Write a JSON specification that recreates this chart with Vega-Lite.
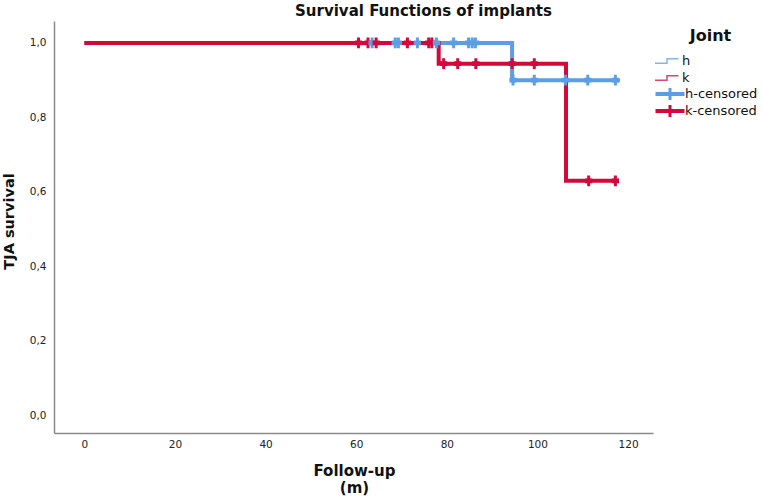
{
  "$schema": "https://vega.github.io/schema/vega-lite/v6.json",
  "autosize": {"type": "none"},
  "padding": {"left": 54, "top": 21, "right": 109, "bottom": 69},
  "width": 599,
  "height": 412,
  "background": "white",
  "title": {
    "text": "Survival Functions of implants",
    "frame": "group",
    "anchor": "middle",
    "dx": 70,
    "dy": 14,
    "offset": 4,
    "baseline": "alphabetic",
    "font": "DejaVu Sans",
    "fontSize": 15,
    "fontWeight": "bold",
    "color": "#111"
  },
  "config": {
    "view": {"stroke": null},
    "axis": {
      "grid": false,
      "ticks": false,
      "domainColor": "#8a8a8a",
      "domainWidth": 1.5,
      "labelFont": "DejaVu Sans",
      "labelFontSize": 10.5,
      "labelColor": "#222",
      "titleFont": "DejaVu Sans",
      "titleFontWeight": "bold",
      "titleColor": "#111"
    }
  },
  "datasets": {
    "curve": [
      {"joint": "h", "t": 0, "s": 1},
      {"joint": "h", "t": 94.4, "s": 0.9},
      {"joint": "h", "t": 118.2, "s": 0.9},
      {"joint": "k", "t": 0, "s": 1},
      {"joint": "k", "t": 78.2, "s": 0.9444},
      {"joint": "k", "t": 106.3, "s": 0.6296},
      {"joint": "k", "t": 117.9, "s": 0.6296}
    ],
    "censored": [
      {"joint": "k-censored", "t": 60.5, "s": 1},
      {"joint": "k-censored", "t": 62.6, "s": 1},
      {"joint": "h-censored", "t": 63.5, "s": 1},
      {"joint": "k-censored", "t": 64.4, "s": 1},
      {"joint": "h-censored", "t": 68.6, "s": 1},
      {"joint": "h-censored", "t": 69.3, "s": 1},
      {"joint": "k-censored", "t": 71.3, "s": 1},
      {"joint": "h-censored", "t": 73.5, "s": 1},
      {"joint": "k-censored", "t": 76.0, "s": 1},
      {"joint": "k-censored", "t": 76.7, "s": 1},
      {"joint": "h-censored", "t": 77.7, "s": 1},
      {"joint": "h-censored", "t": 81.5, "s": 1},
      {"joint": "h-censored", "t": 84.8, "s": 1},
      {"joint": "h-censored", "t": 85.6, "s": 1},
      {"joint": "h-censored", "t": 86.3, "s": 1},
      {"joint": "k-censored", "t": 79.3, "s": 0.9444},
      {"joint": "k-censored", "t": 82.4, "s": 0.9444},
      {"joint": "k-censored", "t": 86.4, "s": 0.9444},
      {"joint": "k-censored", "t": 94.4, "s": 0.9444},
      {"joint": "k-censored", "t": 99.3, "s": 0.9444},
      {"joint": "h-censored", "t": 94.6, "s": 0.9},
      {"joint": "h-censored", "t": 99.3, "s": 0.9},
      {"joint": "h-censored", "t": 106.2, "s": 0.9},
      {"joint": "h-censored", "t": 111.1, "s": 0.9},
      {"joint": "h-censored", "t": 117.2, "s": 0.9},
      {"joint": "k-censored", "t": 111.3, "s": 0.6296},
      {"joint": "k-censored", "t": 117.2, "s": 0.6296}
    ]
  },
  "layer": [
    {
      "data": {"name": "curve"},
      "mark": {"type": "line", "interpolate": "step-after", "strokeWidth": 4},
      "encoding": {
        "x": {
          "field": "t",
          "type": "quantitative",
          "scale": {"domain": [-6.7, 125.5], "nice": false, "zero": false},
          "axis": {
            "values": [0, 20, 40, 60, 80, 100, 120],
            "labelPadding": 6,
            "labelFlush": false,
            "title": ["Follow-up", "(m)"],
            "titleFontSize": 15,
            "titleLineHeight": 17,
            "titleX": 300,
            "titleY": 30,
            "titleAlign": "center",
            "titleBaseline": "top"
          }
        },
        "y": {
          "field": "s",
          "type": "quantitative",
          "scale": {"domain": [-0.048, 1.059], "nice": false, "zero": false},
          "axis": {
            "values": [0, 0.2, 0.4, 0.6, 0.8, 1.0],
            "labelExpr": "replace(format(datum.value, '.1f'), '.', ',')",
            "labelPadding": 8,
            "labelFlush": false,
            "title": "TJA survival",
            "titleFontSize": 14.5,
            "titleAngle": 270,
            "titleX": -45,
            "titleY": 200,
            "titleAlign": "center",
            "titleBaseline": "middle"
          }
        },
        "stroke": {
          "field": "joint",
          "type": "nominal",
          "scale": {"domain": ["h", "k"], "range": ["#5b9ee6", "#d4083a"]},
          "legend": {
            "title": null,
            "orient": "none",
            "legendX": 606.5,
            "legendY": 33.5,
            "padding": 0,
            "labelFont": "DejaVu Sans",
            "labelFontSize": 13,
            "labelColor": "#111",
            "labelOffset": 8.5,
            "rowPadding": 3,
            "symbolSize": 100,
            "symbolStrokeWidth": 1.5,
            "symbolOpacity": 0.75,
            "symbolType": "M-2.4,0.45H0V-0.45H2.3"
          }
        }
      }
    },
    {
      "data": {"name": "censored"},
      "mark": {
        "type": "point",
        "filled": true,
        "opacity": 1,
        "strokeWidth": 0,
        "size": 144,
        "shape": "M-0.25,-0.9H0.25V0.9H-0.25Z M-0.6,-0.4H0.6V0.4H-0.6Z"
      },
      "encoding": {
        "x": {"field": "t", "type": "quantitative"},
        "y": {"field": "s", "type": "quantitative"},
        "fill": {
          "field": "joint",
          "type": "nominal",
          "scale": {"domain": ["h-censored", "k-censored"], "range": ["#5b9ee6", "#d4083a"]},
          "legend": {
            "title": "Joint",
            "orient": "none",
            "legendX": 609.5,
            "legendY": 7,
            "padding": 0,
            "titleFont": "DejaVu Sans",
            "titleFontSize": 16,
            "titleFontWeight": "bold",
            "titleColor": "#111",
            "titleAnchor": "middle",
            "titlePadding": 43.5,
            "labelFont": "DejaVu Sans",
            "labelFontSize": 13,
            "labelColor": "#111",
            "labelOffset": 8.5,
            "rowPadding": 3,
            "symbolSize": 100,
            "symbolStrokeWidth": 0,
            "symbolOpacity": 1,
            "symbolType": "M-2.9,-0.4H2.9V0.4H-2.9Z M-0.3,-1.2H0.3V1.2H-0.3Z"
          }
        }
      }
    }
  ]
}
